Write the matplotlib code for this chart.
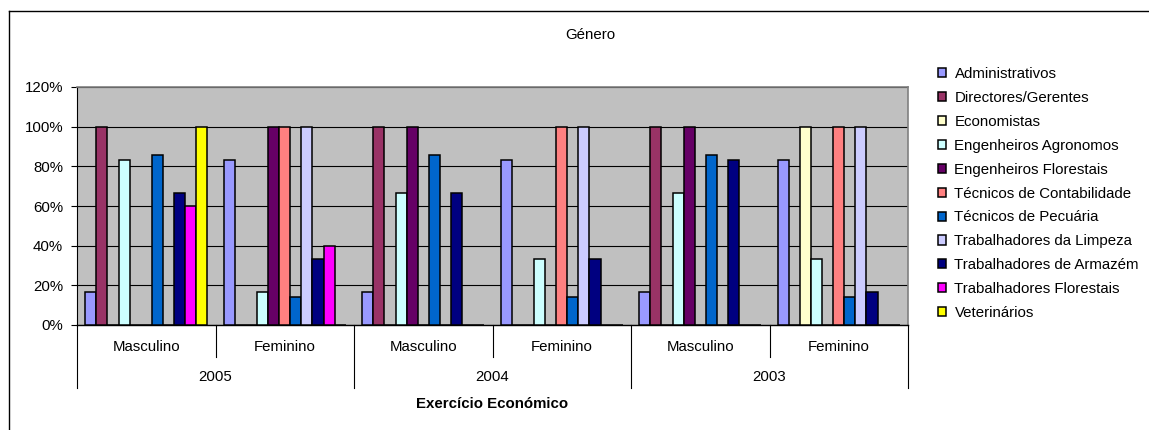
import matplotlib
matplotlib.use("Agg")
import matplotlib.pyplot as plt
import matplotlib.transforms as mtransforms
from matplotlib.patches import Patch
from matplotlib.lines import Line2D
import numpy as np

plt.rcParams['font.family'] = ['Liberation Sans', 'DejaVu Sans']
FS = 10.8

# categories (gender inside year)
years = ["2005", "2004", "2003"]
genders = ["Masculino", "Feminino"]

series_names = ["Administrativos", "Directores/Gerentes", "Economistas",
                "Engenheiros Agronomos", "Engenheiros Florestais",
                "Técnicos de Contabilidade", "Técnicos de Pecuária",
                "Trabalhadores da Limpeza", "Trabalhadores de Armazém",
                "Trabalhadores Florestais", "Veterinários"]
series_colors = ["#9999FF", "#993366", "#FFFFCC", "#CCFFFF", "#660066",
                 "#FF8080", "#0066CC", "#CCCCFF", "#000080", "#FF00FF",
                 "#FFFF00"]

# % per group: 2005 M, 2005 F, 2004 M, 2004 F, 2003 M, 2003 F
administrativos = [16.7, 83.3, 16.7, 83.3, 16.7, 83.3]
directores = [100, 0, 100, 0, 100, 0]
economistas = [0, 0, 0, 0, 0, 100]
eng_agronomos = [83.3, 16.7, 66.7, 33.3, 66.7, 33.3]
eng_florestais = [0, 100, 100, 0, 100, 0]
tec_contabilidade = [0, 100, 0, 100, 0, 100]
tec_pecuaria = [85.7, 14.3, 85.7, 14.3, 85.7, 14.3]
trab_limpeza = [0, 100, 0, 100, 0, 100]
trab_armazem = [66.7, 33.3, 66.7, 33.3, 83.3, 16.7]
trab_florestais = [60, 40, 0, 0, 0, 0]
veterinarios = [100, 0, 0, 0, 0, 0]

values = [administrativos, directores, economistas, eng_agronomos,
          eng_florestais, tec_contabilidade, tec_pecuaria, trab_limpeza,
          trab_armazem, trab_florestais, veterinarios]

fig = plt.figure(figsize=(11.49, 4.30), dpi=100)
ax = fig.add_axes([77/1149, 105/430, 831/1149, 238/430])
ax.set_facecolor("#C0C0C0")

n = len(series_names)
ngroups = len(years) * len(genders)
w = 1.0 / (n + 1.5)   # gap width 150%
centers = np.arange(ngroups) + 0.5
for i, (name, vals, col) in enumerate(zip(series_names, values, series_colors)):
    xs = centers + (i - (n - 1) / 2) * w
    ax.bar(xs, vals, width=w, color=col, edgecolor="black", linewidth=1.1,
           label=name, zorder=3)

ax.set_xlim(0, ngroups)
ax.set_ylim(0, 120)
ax.set_yticks(np.arange(0, 121, 20))
ax.set_yticklabels(["%d%%" % v for v in range(0, 121, 20)])
ax.yaxis.grid(True, color="black", linewidth=0.8, zorder=1)
ax.set_axisbelow(True)
ax.tick_params(axis="y", length=4, width=0.8, pad=6, labelsize=FS)
ax.set_xticks([])
for s in ["top", "right"]:
    ax.spines[s].set_color("#808080")
    ax.spines[s].set_linewidth(1.2)
ax.spines["left"].set_linewidth(0.8)
ax.spines["bottom"].set_linewidth(1.0)

# multi-level category axis
trans = mtransforms.blended_transform_factory(ax.transData, fig.transFigure)
y0 = 1 - 325/430
for g in range(ngroups + 1):
    long_line = g % 2 == 0
    y1 = 1 - (388 if long_line else 357) / 430
    fig.add_artist(Line2D([g, g], [y0, y1], transform=trans,
                          color="black", linewidth=0.8))
for yi, yr in enumerate(years):
    for gi, gen in enumerate(genders):
        k = yi * 2 + gi
        fig.text(k + 0.5, 1 - 347/430, gen, transform=trans,
                 ha="center", va="center", fontsize=FS)
    fig.text(yi * 2 + 1, 1 - 377/430, yr, transform=trans,
             ha="center", va="center", fontsize=FS)
fig.text(ngroups / 2, 1 - 404/430, "Exercício Económico", transform=trans,
         ha="center", va="center", fontsize=FS, fontweight="bold")

fig.text(590/1149, 1 - 35/430, "Género", ha="center", va="center", fontsize=FS)

handles = [Patch(facecolor=c, edgecolor="black", linewidth=1.1)
           for c in series_colors]
fig.legend(handles, series_names, loc="upper left",
           bbox_to_anchor=(938/1149, 1 - 67/430), frameon=False,
           handlelength=0.55, handleheight=0.55, handletextpad=0.55,
           labelspacing=0.66, fontsize=FS, borderaxespad=0, borderpad=0)

# outer chart border (left and top visible)
fig.add_artist(Line2D([9/1149, 9/1149], [0, 1 - 11/430],
                      transform=fig.transFigure, color="black", linewidth=1.0))
fig.add_artist(Line2D([9/1149, 1], [1 - 11/430, 1 - 11/430],
                      transform=fig.transFigure, color="black", linewidth=1.0))

fig.savefig("out.png", dpi=100)
